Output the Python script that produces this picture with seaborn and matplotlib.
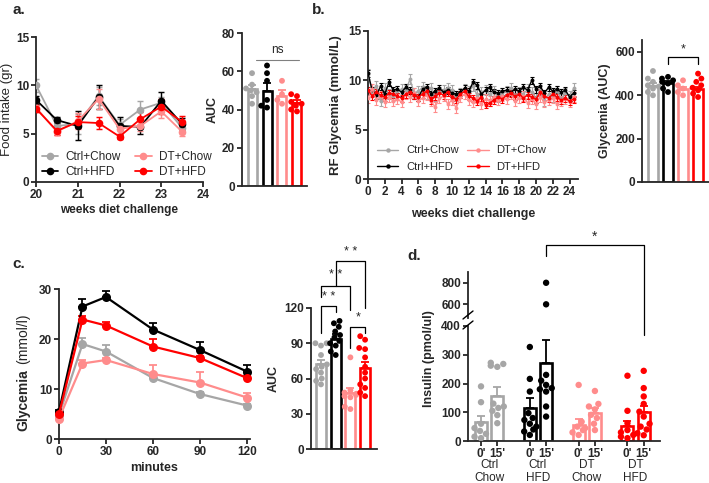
import numpy as np
import pandas as pd
import matplotlib.pyplot as plt
import seaborn as sns
from matplotlib.lines import Line2D

W, H = 709, 483

groups = ["Ctrl+Chow", "Ctrl+HFD", "DT+Chow", "DT+HFD"]
colors = ["#a6a6a6", "#000000", "#ff8c8c", "#ff0000"]
pal = dict(zip(groups, colors))

# a. food intake, weeks 20-24
weeks_a = [20, 20.5, 21, 21.5, 22, 22.5, 23, 23.5]
food_mean = {
    "Ctrl+Chow": [10.0, 5.8, 6.0, 8.9, 5.9, 7.5, 8.2, 5.6],
    "Ctrl+HFD": [8.5, 6.4, 5.8, 8.8, 5.8, 5.7, 8.4, 6.0],
    "DT+Chow": [7.7, 5.2, 6.3, 8.6, 5.5, 5.8, 7.3, 5.2],
    "DT+HFD": [7.6, 5.3, 6.2, 6.1, 4.7, 6.5, 7.8, 6.2],
}
food_err = {
    "Ctrl+Chow": [0.7, 0.5, 1.0, 0.9, 0.6, 0.9, 0.6, 0.5],
    "Ctrl+HFD": [0.4, 0.3, 1.5, 1.2, 0.9, 0.7, 0.9, 0.6],
    "DT+Chow": [0.5, 0.3, 0.8, 1.0, 0.5, 0.5, 0.7, 0.4],
    "DT+HFD": [0.4, 0.4, 0.6, 0.6, 0.3, 0.7, 0.8, 0.6],
}
food_auc_mean = [50.5, 49.5, 47.0, 43.5]
food_auc_err = [2.5, 4.5, 3.0, 1.5]
food_auc_dots = {
    "Ctrl+Chow": [59, 53, 51, 50, 49, 47, 43],
    "Ctrl+HFD": [63, 59, 55, 45, 42, 41],
    "DT+Chow": [55, 48, 45, 43],
    "DT+HFD": [48, 47, 44, 43, 42, 40, 39],
}

# b. random fed glycemia, weeks 0-24.5
weeks_b = [i / 2 for i in range(50)]
rf_glyc = {
    "Ctrl+Chow": [10.6, 8.8, 9.4, 7.9, 9.2, 8.6, 8.4, 8.9, 9.1, 9.0, 10.1, 8.7, 8.9, 9.3, 8.6, 9.2,
                  8.4, 8.8, 9.0, 9.2, 9.0, 8.4, 8.7, 9.1, 8.9, 9.4, 8.5, 8.8, 9.0, 8.6, 8.9, 8.3,
                  8.7, 8.9, 9.2, 8.5, 8.8, 8.6, 9.1, 8.8, 8.2, 9.0, 7.9, 8.6, 8.3, 8.9, 8.1, 8.7,
                  8.4, 9.2],
    "Ctrl+HFD": [10.7, 9.0, 8.5, 9.4, 8.6, 9.8, 9.0, 9.1, 8.8, 9.3, 9.0, 8.5, 8.3, 9.1, 9.3, 8.6,
                 8.9, 9.2, 8.8, 9.0, 8.7, 8.6, 8.8, 9.2, 8.9, 9.8, 9.5, 8.6, 9.0, 9.3, 8.8, 8.7,
                 8.9, 9.0, 8.8, 9.1, 8.9, 9.3, 9.0, 10.0, 9.1, 9.4, 8.7, 9.3, 8.9, 9.1, 8.8, 9.0,
                 8.3, 8.7],
    "DT+Chow": [8.2, 9.1, 8.0, 8.4, 7.8, 8.3, 7.9, 8.1, 7.8, 8.6, 8.3, 8.7, 7.9, 8.2, 8.5, 7.9,
                7.3, 8.2, 8.4, 7.6, 8.0, 7.2, 8.3, 8.6, 8.0, 7.8, 8.2, 7.6, 8.1, 7.9, 8.3, 8.0,
                8.4, 8.1, 8.6, 7.9, 8.2, 8.4, 7.7, 8.1, 7.6, 8.3, 7.8, 8.0, 8.2, 7.6, 7.9, 8.1,
                7.8, 8.3],
    "DT+HFD": [9.0, 8.4, 8.8, 8.5, 8.3, 8.7, 8.6, 8.4, 8.2, 8.6, 8.8, 8.5, 8.3, 8.6, 8.9, 8.0,
               8.4, 8.7, 8.5, 8.8, 8.3, 8.1, 8.6, 8.9, 8.4, 8.2, 7.9, 8.3, 7.5, 7.7, 8.0, 8.3,
               8.1, 8.5, 8.7, 8.4, 8.6, 8.2, 8.5, 8.3, 8.1, 8.8, 8.4, 8.2, 8.6, 8.3, 8.0, 8.2,
               7.9, 8.1],
}
rf_err = {"Ctrl+Chow": 0.5, "Ctrl+HFD": 0.35, "DT+Chow": 0.5, "DT+HFD": 0.35}
rf_auc_mean = [445, 458, 428, 430]
rf_auc_err = [10, 8, 10, 8]
rf_auc_dots = {
    "Ctrl+Chow": [512, 477, 462, 446, 440, 431, 415, 400],
    "Ctrl+HFD": [485, 477, 469, 462, 454, 431, 415],
    "DT+Chow": [469, 446, 431, 415, 400],
    "DT+HFD": [500, 477, 462, 446, 435, 423, 408, 392],
}

# c. GTT
minutes = [0, 15, 30, 60, 90, 120]
gtt_mean = {
    "Ctrl+Chow": [4.8, 19.0, 17.5, 12.2, 9.0, 6.7],
    "Ctrl+HFD": [5.5, 26.5, 28.4, 21.9, 17.8, 13.5],
    "DT+Chow": [4.1, 15.1, 15.8, 13.0, 11.3, 8.3],
    "DT+HFD": [5.0, 23.9, 22.7, 18.5, 16.2, 12.2],
}
gtt_err = {
    "Ctrl+Chow": [0.3, 1.2, 1.3, 0.5, 0.4, 0.4],
    "Ctrl+HFD": [0.3, 1.5, 1.3, 1.4, 1.6, 1.4],
    "DT+Chow": [0.3, 0.7, 0.5, 1.8, 2.1, 1.0],
    "DT+HFD": [0.3, 0.8, 0.7, 1.6, 0.5, 0.4],
}
gtt_auc_mean = [72, 94, 48, 69]
gtt_auc_err = [4, 4, 4, 5]
gtt_auc_dots = {
    "Ctrl+Chow": [90, 90, 88, 80, 72, 70, 68, 65, 60, 58, 55],
    "Ctrl+HFD": [109, 107, 104, 100, 97, 95, 92, 90, 88, 83, 80],
    "DT+Chow": [78, 50, 48, 47, 46, 45, 44, 36, 34],
    "DT+HFD": [96, 93, 86, 85, 78, 70, 65, 60, 55, 52, 48, 45],
}

# d. insulin, 0' and 15'
ins_order = ["CC0", "CC15", "", "CH0", "CH15", " ", "DC0", "DC15", "  ", "DH0", "DH15"]
ins_keys = ["CC0", "CC15", "CH0", "CH15", "DC0", "DC15", "DH0", "DH15"]
ins_colors = [colors[0], colors[0], colors[1], colors[1], colors[2], colors[2], colors[3], colors[3]]
ins_mean = [65, 157, 116, 272, 55, 99, 52, 102]
ins_err = [23, 30, 32, 78, 20, 15, 18, 20]
ins_dots = {
    "CC0": [190, 135, 60, 45, 35, 25, 15, 10],
    "CC15": [272, 268, 262, 258, 130, 120, 115, 105, 90, 62],
    "CH0": [327, 216, 172, 97, 80, 73, 60, 50, 40, 33, 21],
    "CH15": [800, 600, 230, 210, 195, 184, 180, 172, 120, 85],
    "DC0": [195, 67, 50, 45, 38, 30, 21],
    "DC15": [174, 129, 120, 110, 91, 80, 60, 38],
    "DH0": [227, 105, 62, 38, 30, 21, 15, 10],
    "DH15": [244, 184, 155, 129, 102, 85, 60, 50, 40, 27, 20],
}
ins_ticklabels = ["0'", "15'"] * 4
ins_groups = ["Ctrl\nChow", "Ctrl\nHFD", "DT\nChow", "DT\nHFD"]


def long_df(d, key="group"):
    rows = [(k, v) for k, vals in d.items() for v in vals]
    return pd.DataFrame(rows, columns=[key, "value"])


def rect(l, t, r, b):
    return [l / W, 1 - b / H, (r - l) / W, (b - t) / H]


def style_ax(ax):
    sns.despine(ax=ax)
    for s in ["left", "bottom"]:
        ax.spines[s].set_linewidth(1.3)
    ax.tick_params(width=1.3, length=3.5, labelsize=8.5, pad=1.5)


def lines_with_err(ax, x, means, errs, ms, lw, both=True, capsize=2.0):
    rows = []
    for g in groups:
        for xi, yi in zip(x, means[g]):
            rows.append((g, xi, yi))
    df = pd.DataFrame(rows, columns=["group", "x", "y"])
    for g in groups:
        e = errs[g]
        e = np.full(len(x), e) if np.isscalar(e) else np.array(e)
        yerr = e if both else [np.zeros(len(x)), e]
        ax.errorbar(x, means[g], yerr=yerr, fmt="none", ecolor=pal[g],
                    elinewidth=max(lw * 0.8, 0.8), capsize=capsize, capthick=max(lw * 0.8, 0.8), zorder=2)
    sns.lineplot(data=df, x="x", y="y", hue="group", hue_order=groups, palette=pal,
                 marker="o", markersize=ms, markeredgewidth=0, linewidth=lw,
                 legend=False, ax=ax, zorder=3)
    ax.set_xlabel("")
    ax.set_ylabel("")


def bars_with_dots(ax, means, errs, dots, width, dot_size, order=None, keys=None, cols=None):
    order = order or groups
    keys = keys or groups
    cols = cols or colors
    p = dict(zip(keys, cols))
    sns.barplot(x=keys, y=means, hue=keys, order=order, hue_order=keys, palette=p,
                fill=False, width=width, linewidth=1.9, errorbar=None, legend=False, ax=ax)
    df = long_df(dots)
    sns.swarmplot(data=df, x="group", y="value", hue="group", order=order, hue_order=keys,
                  palette=p, size=dot_size, linewidth=0, legend=False, ax=ax, zorder=3,
                  warn_thresh=1.0)
    pos = [order.index(k) for k in keys]
    for xi, m, e, c in zip(pos, means, errs, cols):
        ax.errorbar([xi], [m], yerr=[[0], [e]], fmt="none", ecolor=c,
                    elinewidth=1.3, capsize=3, capthick=1.3, zorder=4)
    ax.set_xticks([])
    ax.set_xlabel("")
    ax.set_ylabel("")
    return pos


def bracket(ax, x1, x2, top, l_end, r_end, text, ty, fs=9):
    ax.plot([x1, x1, x2, x2], [l_end, top, top, r_end], color="black", lw=0.9, clip_on=False)
    ax.text((x1 + x2) / 2, ty, text, ha="center", va="center", fontsize=fs,
            fontweight="normal", clip_on=False)


def legend_handles(ms, lw):
    return [Line2D([0], [0], color=c, marker="o", markersize=ms, lw=lw, markeredgewidth=0)
            for c in colors]


sns.set_style("ticks")
plt.rcParams["font.family"] = ["Liberation Sans", "DejaVu Sans"]
plt.rcParams["font.weight"] = "bold"
plt.rcParams["axes.labelweight"] = "bold"

fig = plt.figure(figsize=(W / 100, H / 100), dpi=100)

# ---- a. food intake
ax_a = fig.add_axes(rect(36, 37, 203, 182))
lines_with_err(ax_a, weeks_a, food_mean, food_err, ms=5.5, lw=1.3)
ax_a.set_xlim(20, 24)
ax_a.set_ylim(0, 15)
ax_a.set_xticks([20, 21, 22, 23, 24])
ax_a.set_yticks([0, 5, 10, 15])
ax_a.set_xlabel("weeks diet challenge", fontsize=8.5, labelpad=2)
ax_a.set_ylabel("Food intake (gr)", fontsize=9.5, fontweight="normal", labelpad=2)
ax_a.legend(legend_handles(5.5, 1.3), groups, ncol=2, frameon=False,
            prop={"size": 8.5, "weight": "normal"},
            loc="lower left", bbox_to_anchor=(0.035, 0.03), handlelength=1.4,
            columnspacing=1.2, labelspacing=0.2, handletextpad=0.6,
            borderaxespad=0, borderpad=0)
style_ax(ax_a)

ax_a2 = fig.add_axes(rect(242, 33, 307, 186))
bars_with_dots(ax_a2, food_auc_mean, food_auc_err, food_auc_dots, width=0.6, dot_size=4.2)
ax_a2.set_xlim(-0.67, 3.67)
ax_a2.set_ylim(0, 80)
ax_a2.set_yticks([0, 20, 40, 60, 80])
ax_a2.set_ylabel("AUC", fontsize=9, labelpad=2)
ax_a2.plot([0.27, 3.13], [66, 66], color="#808080", lw=0.8, clip_on=False)
ax_a2.text(1.7, 71, "ns", ha="center", va="center", fontsize=8.5, fontweight="normal")
style_ax(ax_a2)

# ---- b. RF glycemia
ax_b = fig.add_axes(rect(368, 31, 578, 179))
lines_with_err(ax_b, weeks_b, rf_glyc, rf_err, ms=2.8, lw=1.0, capsize=1.5)
ax_b.set_xlim(0, 25)
ax_b.set_ylim(0, 15)
ax_b.set_xticks(list(range(0, 25, 2)))
ax_b.set_yticks([0, 5, 10, 15])
ax_b.set_xlabel("weeks diet challenge", fontsize=9, labelpad=7)
ax_b.set_ylabel("RF Glycemia (mmol/L)", fontsize=9.5, labelpad=4)
ax_b.legend(legend_handles(3.2, 1.0), groups, ncol=2, frameon=False,
            prop={"size": 8, "weight": "normal"},
            loc="lower left", bbox_to_anchor=(0.043, 0.05), handlelength=1.9,
            columnspacing=0.8, labelspacing=0.55, handletextpad=0.7,
            borderaxespad=0, borderpad=0)
style_ax(ax_b)

ax_b2 = fig.add_axes(rect(642, 40, 709, 182))
bars_with_dots(ax_b2, rf_auc_mean, rf_auc_err, rf_auc_dots, width=0.65, dot_size=4.2)
ax_b2.set_xlim(-0.73, 3.73)
ax_b2.set_ylim(0, 655)
ax_b2.set_yticks([0, 200, 400, 600])
ax_b2.set_ylabel("Glycemia (AUC)", fontsize=9, labelpad=3)
bracket(ax_b2, 1, 3, 578, 545, 545, "*", 612)
style_ax(ax_b2)

# ---- c. GTT
ax_c = fig.add_axes(rect(59, 289, 250, 439))
lines_with_err(ax_c, minutes, gtt_mean, gtt_err, ms=6.5, lw=1.6, both=False, capsize=3)
for ln in ax_c.lines:
    ln.set_clip_on(False)
ax_c.set_xlim(0, 122)
ax_c.set_ylim(0, 30)
ax_c.set_xticks([0, 30, 60, 90, 120])
ax_c.set_yticks([0, 10, 20, 30])
ax_c.set_xlabel("minutes", fontsize=9, labelpad=3)
style_ax(ax_c)
fig.text(23 / W, 1 - 431 / H, "Glycemia", rotation=90, ha="center", va="bottom", fontsize=10)
fig.text(23 / W, 1 - 364 / H, "(mmol/l)", rotation=90, ha="center", va="bottom",
         fontsize=10, fontweight="normal")

ax_c2 = fig.add_axes(rect(311, 308, 377, 449))
bars_with_dots(ax_c2, gtt_auc_mean, gtt_auc_err, gtt_auc_dots, width=0.68, dot_size=4.2)
ax_c2.set_xlim(-0.68, 3.81)
ax_c2.set_ylim(0, 120)
ax_c2.set_yticks([0, 30, 60, 90, 120])
ax_c2.set_ylabel("AUC", fontsize=9, labelpad=3)
bracket(ax_c2, 0, 1, 121.7, 99, 116.6, "* *", 129)
bracket(ax_c2, 0, 2, 138.7, 129, 118, "* *", 148)
bracket(ax_c2, 1, 3, 160, 139, 120, "* *", 167.7)
bracket(ax_c2, 2, 3, 103.8, 86, 98.7, "*", 112)
style_ax(ax_c2)

# ---- d. insulin, broken axis
ax_d = fig.add_axes(rect(468, 326, 660, 441))
pos = bars_with_dots(ax_d, ins_mean, ins_err, ins_dots, width=0.74, dot_size=4.6,
                     order=ins_order, keys=ins_keys, cols=ins_colors)
ax_d.set_xlim(-0.8, 11.0)
ax_d.set_ylim(0, 400)
ax_d.set_yticks([0, 100, 200, 300, 400])
ax_d.set_xticks(pos)
ax_d.set_xticklabels(ins_ticklabels)
style_ax(ax_d)
for i, lab in enumerate(ins_groups):
    ax_d.text((pos[2 * i] + pos[2 * i + 1]) / 2, -0.16, lab, transform=ax_d.get_xaxis_transform(),
              ha="center", va="top", fontsize=8.5, fontweight="normal", linespacing=1.1)
ax_d.set_ylabel("Insulin (pmol/ul)", fontsize=9)
ax_d.yaxis.set_label_coords(-0.17, 0.72)

ax_d2 = fig.add_axes(rect(468, 272, 660, 318))
df_ins = long_df(ins_dots)
sns.swarmplot(data=df_ins, x="group", y="value", hue="group", order=ins_order, hue_order=ins_keys,
              palette=dict(zip(ins_keys, ins_colors)), size=4.6, linewidth=0, legend=False,
              ax=ax_d2, warn_thresh=1.0)
ax_d2.set_xlim(-0.8, 11.0)
ax_d2.set_ylim(473, 900)
ax_d2.set_yticks([600, 800])
ax_d2.set_xticks([])
ax_d2.set_xlabel("")
ax_d2.set_ylabel("")
style_ax(ax_d2)
ax_d2.spines["bottom"].set_visible(False)
bracket(ax_d2, pos[3], pos[7], 1149, 1047, 316, "*", 1225, fs=10)
for yb in [319, 329]:
    fig.add_artist(Line2D([463 / W, 473 / W], [1 - yb / H, 1 - (yb - 8) / H], color="black", lw=1.0))

# panel letters
for s, x, y in [("a.", 12, 3), ("b.", 312, 3), ("c.", 12, 257), ("d.", 407, 249)]:
    fig.text(x / W, 1 - y / H, s, ha="left", va="top", fontsize=11)

fig.savefig("out.png", dpi=100)
